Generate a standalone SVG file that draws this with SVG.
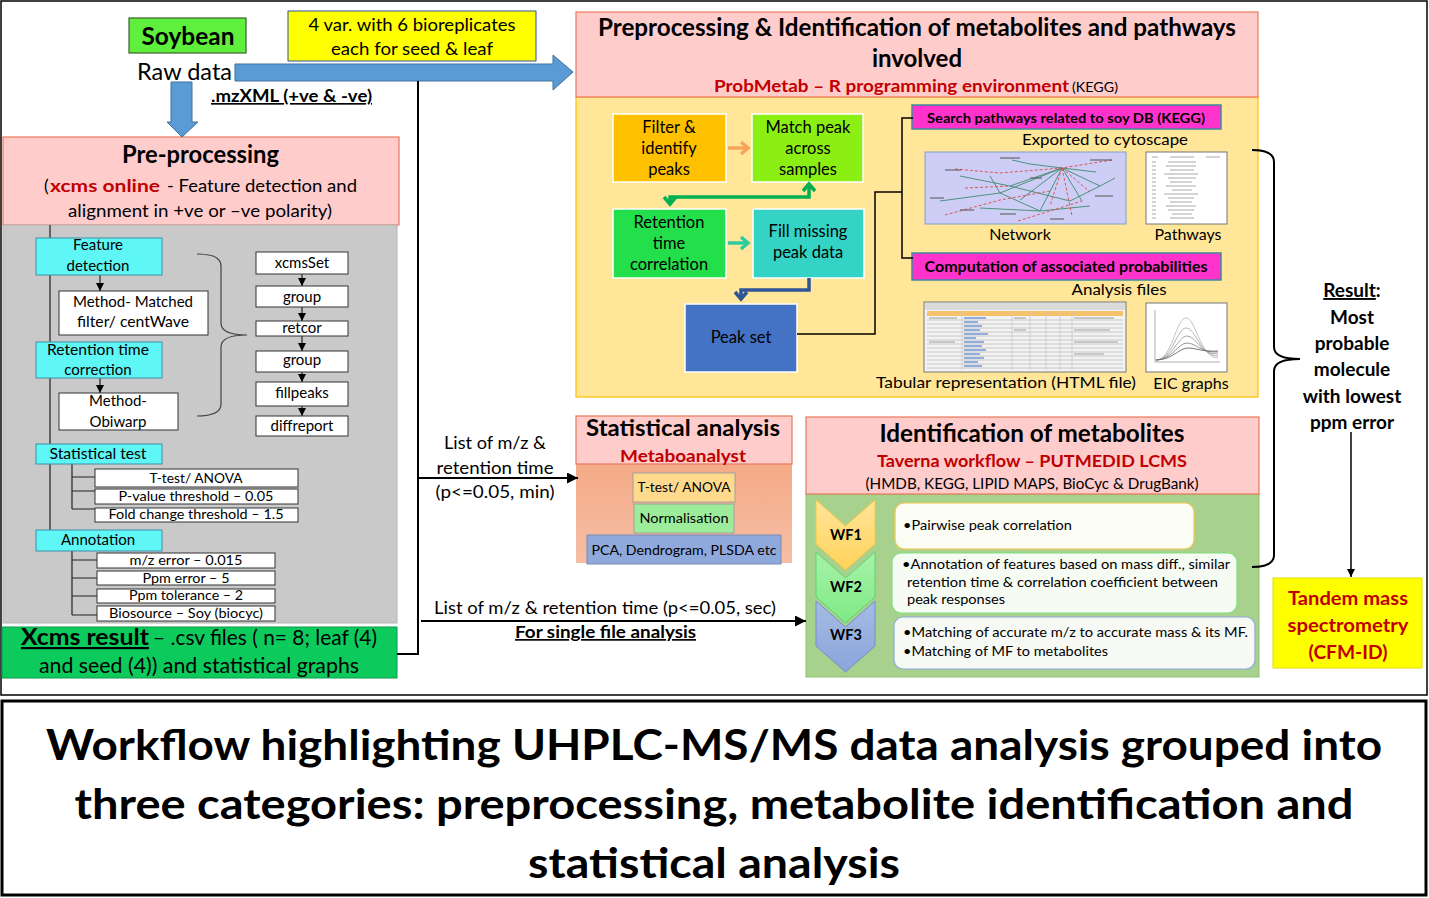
<svg xmlns="http://www.w3.org/2000/svg" width="1429" height="898" viewBox="0 0 1429 898">
<defs>
<style>
text{font-family:Lato,"Liberation Sans",sans-serif;fill:#000}
.b{font-weight:bold}
.r{fill:#C00000}
.c{text-anchor:middle}
.u{text-decoration:underline}
.cy{fill:#5FF6F6;stroke:#3E8FA8;stroke-width:1}
.wb{fill:#fff;stroke:#333;stroke-width:1}
.pink{fill:#FFCCCC;stroke:#E9785A;stroke-width:1.2}
.ln{fill:none;stroke:#222;stroke-width:1.2}
.conn{fill:none;stroke:#000;stroke-width:2}
.mag{fill:#FF33CC;stroke:#3D8C9C;stroke-width:1.5}
.s13{font-size:13.5px}
.s15{font-size:15px}
.s16{font-size:16.5px}
.s17{font-size:17px}
.s19{font-size:19px}
.grid{stroke:#bdbdbd;stroke-width:0.8}
</style>
<marker id="ah" viewBox="0 0 8 8" markerWidth="8" markerHeight="8" refX="8" refY="4" orient="auto" markerUnits="userSpaceOnUse"><path d="M0,0 L8,4 L0,8 z" fill="#000"/></marker>
<marker id="ahL" viewBox="0 0 10 10" markerWidth="11" markerHeight="11" refX="10" refY="5" orient="auto" markerUnits="userSpaceOnUse"><path d="M0,0 L10,5 L0,10 z" fill="#000"/></marker>
<marker id="chO" viewBox="0 0 12 16" markerWidth="12" markerHeight="16" refX="9" refY="8" orient="auto" markerUnits="userSpaceOnUse"><path d="M2,2 L9,8 L2,14" fill="none" stroke="#F7A35C" stroke-width="3.5"/></marker>
<marker id="chT" viewBox="0 0 12 16" markerWidth="12" markerHeight="16" refX="9" refY="8" orient="auto" markerUnits="userSpaceOnUse"><path d="M2,2 L9,8 L2,14" fill="none" stroke="#2FCB9E" stroke-width="3.5"/></marker>
<marker id="chG" viewBox="0 0 12 16" markerWidth="12" markerHeight="16" refX="9" refY="8" orient="auto-start-reverse" markerUnits="userSpaceOnUse"><path d="M2,2 L9,8 L2,14" fill="none" stroke="#00B050" stroke-width="3.5"/></marker>
<marker id="chB" viewBox="0 0 12 16" markerWidth="12" markerHeight="16" refX="9" refY="8" orient="auto" markerUnits="userSpaceOnUse"><path d="M2,2 L9,8 L2,14" fill="none" stroke="#2F5597" stroke-width="3.5"/></marker>
<linearGradient id="gStat" x1="0" y1="0" x2="0" y2="1"><stop offset="0" stop-color="#F4AA86"/><stop offset="1" stop-color="#F6BFA6"/></linearGradient>
<linearGradient id="gW1" x1="0" y1="0" x2="0" y2="1"><stop offset="0" stop-color="#FFE49A"/><stop offset="1" stop-color="#FFD35A"/></linearGradient>
<linearGradient id="gW2" x1="0" y1="0" x2="0" y2="1"><stop offset="0" stop-color="#A8F2A8"/><stop offset="1" stop-color="#7EEA86"/></linearGradient>
<linearGradient id="gW3" x1="0" y1="0" x2="0" y2="1"><stop offset="0" stop-color="#A6BBE4"/><stop offset="1" stop-color="#8AA5DA"/></linearGradient>
</defs>

<rect x="0" y="0" width="1429" height="898" fill="#fff"/>
<rect x="1" y="1" width="1426" height="694" fill="none" stroke="#000" stroke-width="1.5"/>

<!-- Soybean / raw data -->
<g id="soybean">
<rect x="129" y="18" width="117" height="35" fill="#5EF03C" stroke="#3F5F35" stroke-width="1.2"/>
<text x="188" y="45" class="b c" font-size="25" textLength="93" lengthAdjust="spacingAndGlyphs">Soybean</text>
</g>
<g id="rawdata">
<text x="137" y="80" font-size="23" textLength="95" lengthAdjust="spacingAndGlyphs">Raw data</text>
<text x="211" y="102" class="b u" font-size="16.5" textLength="161" lengthAdjust="spacingAndGlyphs">.mzXML (+ve &amp; -ve)</text>
</g>
<g id="replicates">
<rect x="288" y="11" width="248" height="50" fill="#FFFF00" stroke="#2F5597" stroke-width="1"/>
<text x="412" y="31" class="c s16" textLength="207" lengthAdjust="spacingAndGlyphs">4 var. with 6 bioreplicates</text>
<text x="412" y="55" class="c s16" textLength="162" lengthAdjust="spacingAndGlyphs">each for seed &amp; leaf</text>
</g>

<!-- Pre-processing -->
<g id="preprocessing">
<rect x="3" y="137" width="396" height="88" class="pink"/>
<text x="122" y="163" class="b" font-size="24" textLength="157" lengthAdjust="spacingAndGlyphs">Pre-processing</text>
<text x="44" y="192" font-size="17.5">(</text>
<text x="50" y="192" class="b r" font-size="17.5" textLength="110" lengthAdjust="spacingAndGlyphs">xcms online</text>
<text x="167" y="192" font-size="17.5" textLength="190" lengthAdjust="spacingAndGlyphs">- Feature detection and</text>
<text x="68" y="217" font-size="17.5" textLength="264" lengthAdjust="spacingAndGlyphs">alignment in +ve or –ve polarity)</text>
</g>

<g id="xcms-panel">
<rect x="3" y="225" width="394" height="398" fill="#C9C9C9" stroke="#B5B5B5" stroke-width="1"/>
<line x1="50" y1="225" x2="50" y2="530" class="ln"/>
<line x1="72" y1="464" x2="72" y2="509" class="ln"/>
<path d="M72,477 H95 M72,491 H95 M72,509 H95" class="ln"/>
<line x1="72" y1="551" x2="72" y2="615" class="ln"/>
<path d="M72,560 H97 M72,578 H97 M72,596 H97 M72,615 H97" class="ln"/>
<line x1="100" y1="275" x2="100" y2="291" class="ln" marker-end="url(#ah)"/>
<line x1="100" y1="374" x2="100" y2="393" class="ln" marker-end="url(#ah)"/>
<path d="M197,254 Q221,254 221,266 L221,323 Q221,335 247,335 Q221,335 221,347 L221,404 Q221,416 197,416" fill="none" stroke="#444" stroke-width="1.2"/>
<line x1="302" y1="274" x2="302" y2="286" class="ln" marker-end="url(#ah)"/>
<line x1="302" y1="307" x2="302" y2="321" class="ln" marker-end="url(#ah)"/>
<line x1="302" y1="336" x2="302" y2="351" class="ln" marker-end="url(#ah)"/>
<line x1="302" y1="372" x2="302" y2="382" class="ln" marker-end="url(#ah)"/>
<line x1="302" y1="406" x2="302" y2="416" class="ln" marker-end="url(#ah)"/>
</g>

<g id="feature-detection">
<rect x="36" y="238" width="126" height="37" class="cy"/>
<text x="98" y="250" class="c s15">Feature</text>
<text x="98" y="271" class="c s15">detection</text>
</g>
<g id="method-matched">
<rect x="59" y="291" width="149" height="44" class="wb"/>
<text x="133" y="307" class="c s15" textLength="120" lengthAdjust="spacingAndGlyphs">Method- Matched</text>
<text x="133" y="327" class="c s15" textLength="112" lengthAdjust="spacingAndGlyphs">filter/ centWave</text>
</g>
<g id="rt-correction">
<rect x="36" y="342" width="126" height="36" class="cy"/>
<text x="98" y="355" class="c s15" textLength="102" lengthAdjust="spacingAndGlyphs">Retention time</text>
<text x="98" y="375" class="c s15">correction</text>
</g>
<g id="method-obiwarp">
<rect x="59" y="393" width="119" height="37" class="wb"/>
<text x="118" y="406" class="c s15">Method-</text>
<text x="118" y="427" class="c s15">Obiwarp</text>
</g>
<g id="xcms-steps">
<rect x="256" y="252" width="92" height="22" class="wb"/>
<text x="302" y="268" class="c s15">xcmsSet</text>
<rect x="256" y="286" width="92" height="21" class="wb"/>
<text x="302" y="302" class="c s15">group</text>
<rect x="256" y="321" width="92" height="15" class="wb"/>
<text x="302" y="333" class="c s15">retcor</text>
<rect x="256" y="351" width="92" height="21" class="wb"/>
<text x="302" y="365" class="c s15">group</text>
<rect x="256" y="382" width="92" height="24" class="wb"/>
<text x="302" y="398" class="c s15">fillpeaks</text>
<rect x="256" y="416" width="92" height="20" class="wb"/>
<text x="302" y="431" class="c s15">diffreport</text>
</g>
<g id="statistical-test">
<rect x="36" y="444" width="126" height="20" class="cy"/>
<text x="98" y="459" class="c s15" textLength="97" lengthAdjust="spacingAndGlyphs">Statistical test</text>
<rect x="95" y="469" width="203" height="18" class="wb"/>
<text x="196" y="483" class="c s13" textLength="93" lengthAdjust="spacingAndGlyphs">T-test/ ANOVA</text>
<rect x="95" y="489" width="203" height="15" class="wb"/>
<text x="196" y="501" class="c s13" textLength="155" lengthAdjust="spacingAndGlyphs">P-value threshold – 0.05</text>
<rect x="95" y="508" width="203" height="14" class="wb"/>
<text x="196" y="519" class="c s13" textLength="175" lengthAdjust="spacingAndGlyphs">Fold change threshold – 1.5</text>
</g>
<g id="annotation">
<rect x="36" y="530" width="126" height="21" class="cy"/>
<text x="98" y="545" class="c s15">Annotation</text>
<rect x="97" y="553" width="178" height="15" class="wb"/>
<text x="186" y="565" class="c s13" textLength="113" lengthAdjust="spacingAndGlyphs">m/z error – 0.015</text>
<rect x="97" y="571" width="178" height="14" class="wb"/>
<text x="186" y="583" class="c s13" textLength="87" lengthAdjust="spacingAndGlyphs">Ppm error – 5</text>
<rect x="97" y="589" width="178" height="14" class="wb"/>
<text x="186" y="600" class="c s13" textLength="114" lengthAdjust="spacingAndGlyphs">Ppm tolerance – 2</text>
<rect x="97" y="606" width="178" height="15" class="wb"/>
<text x="186" y="618" class="c s13" textLength="154" lengthAdjust="spacingAndGlyphs">Biosource – Soy (biocyc)</text>
</g>
<g id="xcms-result">
<rect x="2" y="627" width="395" height="51" fill="#0CCB5C" stroke="#0A9A48" stroke-width="1"/>
<text x="21" y="645" class="b u" font-size="22" textLength="128" lengthAdjust="spacingAndGlyphs">Xcms result</text>
<text x="153" y="645" font-size="21" textLength="224" lengthAdjust="spacingAndGlyphs">– .csv files ( n= 8; leaf (4)</text>
<text x="39" y="673" font-size="21" textLength="320" lengthAdjust="spacingAndGlyphs">and seed  (4)) and statistical graphs</text>
</g>

<!-- List labels -->
<g id="list-labels">
<text x="495" y="449" class="c s17" textLength="102" lengthAdjust="spacingAndGlyphs">List of m/z &amp;</text>
<text x="495" y="474" class="c s17" textLength="117" lengthAdjust="spacingAndGlyphs">retention time</text>
<text x="495" y="498" class="c s17" textLength="119" lengthAdjust="spacingAndGlyphs">(p&lt;=0.05, min)</text>
<text x="434" y="614" class="s17" textLength="342" lengthAdjust="spacingAndGlyphs">List of m/z &amp; retention time (p&lt;=0.05, sec)</text>
<text x="515" y="638" class="b u s17" textLength="181" lengthAdjust="spacingAndGlyphs">For single file analysis</text>
</g>

<!-- Statistical analysis -->
<g id="statistical-analysis">
<rect x="576" y="464" width="216" height="99" fill="url(#gStat)"/>
<rect x="576" y="416" width="216" height="48" class="pink"/>
<text x="683" y="436" class="b c" font-size="22" textLength="194" lengthAdjust="spacingAndGlyphs">Statistical analysis</text>
<text x="683" y="462" class="b c r s17" textLength="126" lengthAdjust="spacingAndGlyphs">Metaboanalyst</text>
<rect x="633" y="473" width="102" height="29" fill="#FFD98C" stroke="#A0A0A0" stroke-width="1"/>
<text x="684" y="492" class="c" font-size="14" textLength="93" lengthAdjust="spacingAndGlyphs">T-test/ ANOVA</text>
<rect x="634" y="504" width="100" height="29" fill="#9DEC9B" stroke="#A0A0A0" stroke-width="1"/>
<text x="684" y="523" class="c" font-size="14" textLength="89" lengthAdjust="spacingAndGlyphs">Normalisation</text>
<rect x="587" y="535" width="194" height="29" fill="#8FA9DC" stroke="#7A8AB0" stroke-width="1"/>
<text x="684" y="555" class="c" font-size="14" textLength="185" lengthAdjust="spacingAndGlyphs">PCA, Dendrogram, PLSDA etc</text>
</g>

<!-- Identification of metabolites -->
<g id="identification">
<rect x="806" y="494" width="453" height="183" fill="#A9D18E" stroke="#8CBF6E" stroke-width="1"/>
<rect x="806" y="417" width="453" height="77" class="pink"/>
<text x="1032" y="442" class="b c" font-size="24" textLength="305" lengthAdjust="spacingAndGlyphs">Identification of metabolites</text>
<text x="1032" y="467" class="b c r" font-size="17.5" textLength="310" lengthAdjust="spacingAndGlyphs">Taverna workflow – PUTMEDID LCMS</text>
<text x="1032" y="489" class="c" font-size="15.5" textLength="333" lengthAdjust="spacingAndGlyphs">(HMDB, KEGG, LIPID MAPS, BioCyc &amp; DrugBank)</text>
</g>
<g id="wf1">
<polygon points="816,500 845.5,526 875,500 875,544 845.5,570 816,544" fill="url(#gW1)" stroke="#F2C744" stroke-width="1"/>
<text x="846" y="540" class="b c" font-size="14.5">WF1</text>
<rect x="895" y="503" width="299" height="46" rx="9" fill="#FBFCF4" stroke="#F2C744" stroke-width="1.2"/>
<text x="903" y="530" class="s13" textLength="169" lengthAdjust="spacingAndGlyphs">•Pairwise peak correlation</text>
</g>
<g id="wf2">
<polygon points="816,552 845.5,578 875,552 875,597 845.5,623 816,597" fill="url(#gW2)" stroke="#5FD46C" stroke-width="1"/>
<text x="846" y="592" class="b c" font-size="14.5">WF2</text>
<rect x="892" y="553" width="345" height="60" rx="9" fill="#F6FBF3" stroke="#7FE07F" stroke-width="1.2"/>
<text x="902" y="569" class="s13" textLength="328" lengthAdjust="spacingAndGlyphs">•Annotation of features based on mass diff., similar</text>
<text x="907" y="587" class="s13" textLength="311" lengthAdjust="spacingAndGlyphs">retention time &amp; correlation coefficient between</text>
<text x="907" y="604" class="s13" textLength="98" lengthAdjust="spacingAndGlyphs">peak responses</text>
</g>
<g id="wf3">
<polygon points="816,601 845.5,627 875,601 875,646 845.5,672 816,646" fill="url(#gW3)" stroke="#6F8FCF" stroke-width="1"/>
<text x="846" y="640" class="b c" font-size="14.5">WF3</text>
<rect x="894" y="617" width="361" height="52" rx="9" fill="#F6F9F4" stroke="#8FA9DC" stroke-width="1.2"/>
<text x="903" y="637" class="s13" textLength="345" lengthAdjust="spacingAndGlyphs">•Matching of accurate m/z to accurate mass &amp; its MF.</text>
<text x="903" y="656" class="s13" textLength="205" lengthAdjust="spacingAndGlyphs">•Matching of MF to metabolites</text>
</g>

<!-- Result -->
<g id="result">
<text x="1352" y="297" class="b c s19"><tspan class="u">Result</tspan>:</text>
<text x="1352" y="324" class="b c s19">Most</text>
<text x="1352" y="350" class="b c s19">probable</text>
<text x="1352" y="376" class="b c s19">molecule</text>
<text x="1352" y="403" class="b c s19">with lowest</text>
<text x="1352" y="429" class="b c s19">ppm error</text>
</g>
<g id="tandem">
<rect x="1273" y="578" width="149" height="90" fill="#FFFF00" stroke="#E0E000" stroke-width="1"/>
<text x="1348" y="605" class="b c r s19" textLength="120" lengthAdjust="spacingAndGlyphs">Tandem mass</text>
<text x="1348" y="632" class="b c r s19" textLength="121" lengthAdjust="spacingAndGlyphs">spectrometry</text>
<text x="1348" y="659" class="b c r s19" textLength="79" lengthAdjust="spacingAndGlyphs">(CFM-ID)</text>
</g>

<!-- ProbMetab -->
<g id="probmetab">
<rect x="576" y="97" width="682" height="300" fill="#FFE699" stroke="#FFC000" stroke-width="1.2"/>
<rect x="576" y="12" width="682" height="85" class="pink"/>
<text x="917" y="36" class="b c" font-size="24" textLength="638" lengthAdjust="spacingAndGlyphs">Preprocessing &amp; Identification of metabolites and pathways</text>
<text x="917" y="67" class="b c" font-size="24" textLength="90" lengthAdjust="spacingAndGlyphs">involved</text>
<text x="714" y="92" class="b r" font-size="17.5" textLength="355" lengthAdjust="spacingAndGlyphs">ProbMetab – R programming environment</text>
<text x="1072" y="92" font-size="13" textLength="46" lengthAdjust="spacingAndGlyphs">(KEGG)</text>
</g>
<g id="filter-peaks">
<rect x="613" y="114" width="113" height="68" fill="#FFC000" stroke="#fff" stroke-width="1.5"/>
<text x="669" y="133" class="c s16">Filter &amp;</text>
<text x="669" y="154" class="c s16">identify</text>
<text x="669" y="175" class="c s16">peaks</text>
</g>
<g id="match-peak">
<rect x="752" y="114" width="111" height="68" fill="#8CEF14" stroke="#fff" stroke-width="1.5"/>
<text x="808" y="133" class="c s16">Match peak</text>
<text x="808" y="154" class="c s16">across</text>
<text x="808" y="175" class="c s16">samples</text>
</g>
<g id="rt-correlation">
<rect x="613" y="209" width="113" height="69" fill="#23DF4B" stroke="#fff" stroke-width="1.5"/>
<text x="669" y="228" class="c s16">Retention</text>
<text x="669" y="249" class="c s16">time</text>
<text x="669" y="270" class="c s16">correlation</text>
</g>
<g id="fill-missing">
<rect x="753" y="209" width="111" height="69" fill="#34D3C6" stroke="#fff" stroke-width="1.5"/>
<text x="808" y="237" class="c s16">Fill missing</text>
<text x="808" y="258" class="c s16">peak data</text>
</g>
<g id="peak-set">
<rect x="685" y="304" width="112" height="68" fill="#4472C4" stroke="#fff" stroke-width="1.5"/>
<text x="741" y="343" class="c s16">Peak set</text>
</g>
<g id="search-pathways">
<rect x="912" y="105" width="309" height="24" class="mag"/>
<text x="1066" y="123" class="b c" font-size="14" textLength="278" lengthAdjust="spacingAndGlyphs">Search pathways related to soy DB (KEGG)</text>
<text x="1105" y="145" class="c" font-size="16" textLength="166" lengthAdjust="spacingAndGlyphs">Exported to cytoscape</text>
</g>
<g id="network">
<rect x="925" y="152" width="201" height="72" fill="#CDCDF6" stroke="#7FA0D0" stroke-width="1"/>
<path d="M960,176 L1010,186 L1062,168 L1100,186 L1070,201 L1010,186 M940,201 L1000,193 L1062,168 L1082,201 M990,176 L1000,193 L1040,211 L1062,168 M1030,164 L1062,168 L1096,172 M980,208 L1040,211 L1090,206 M1062,168 L1020,200 M1100,186 L1115,178 M1012,160 L1030,164" fill="none" stroke="#3F8A6E" stroke-width="0.9"/>
<path d="M955,169 L1000,173 L1062,168 L1112,160 M945,215 L1000,200 L1050,191 M1062,168 L1072,216 M1062,168 L1050,206 M1018,221 L1082,201 M1062,168 L1090,192 M965,188 L1010,186" fill="none" stroke="#E04848" stroke-width="0.9" stroke-dasharray="3,2"/>
<path d="M945,170 h16 M1000,158 h20 M1090,160 h22 M930,198 h14 M1095,196 h18 M1000,214 h16 M1050,219 h14 M960,210 h14 M1030,178 h12" stroke="#555" stroke-width="1.2"/>
<text x="1020" y="240" class="c" font-size="16">Network</text>
</g>
<g id="pathways">
<rect x="1146" y="152" width="81" height="72" fill="#fff" stroke="#777" stroke-width="1"/>
<path d="M1152,157 h6 M1170,157 h24 M1206,157 h14 M1152,162 h4 M1168,162 h28 M1152,166 h4 M1166,166 h30 M1152,170 h4 M1170,170 h24 M1152,174 h4 M1164,174 h34 M1152,178 h4 M1168,178 h28 M1152,182 h4 M1170,182 h22 M1152,186 h4 M1166,186 h30 M1152,190 h4 M1172,190 h20 M1152,194 h4 M1164,194 h34 M1152,198 h4 M1168,198 h26 M1152,202 h4 M1170,202 h22 M1152,206 h4 M1166,206 h30 M1152,210 h4 M1168,210 h26 M1152,214 h4 M1172,214 h20 M1152,218 h4 M1170,218 h24" stroke="#a8a8a8" stroke-width="1"/>
<text x="1188" y="240" class="c" font-size="16">Pathways</text>
</g>
<g id="computation">
<rect x="912" y="253" width="309" height="27" class="mag"/>
<text x="1066" y="272" class="b c" font-size="15" textLength="283" lengthAdjust="spacingAndGlyphs">Computation of associated probabilities</text>
<text x="1119" y="295" class="c" font-size="16" textLength="95" lengthAdjust="spacingAndGlyphs">Analysis files</text>
</g>
<g id="tabular">
<rect x="924" y="302" width="202" height="70" fill="#F2F2F2" stroke="#777" stroke-width="1"/>
<rect x="925" y="303" width="200" height="7" fill="#DADADA"/>
<rect x="927" y="311" width="196" height="5" fill="#F5C26B"/>
<path d="M927,320 H1123 M927,324 H1123 M927,328 H1123 M927,332 H1123 M927,336 H1123 M927,340 H1123 M927,344 H1123 M927,348 H1123 M927,352 H1123 M927,356 H1123 M927,360 H1123 M927,364 H1123 M927,368 H1123" class="grid"/>
<path d="M962,311 V370 M1012,311 V370 M1030,311 V370 M1046,311 V370 M1060,311 V370 M1072,311 V370" stroke="#c8c8c8" stroke-width="0.8"/>
<path d="M964,318 h22 M964,322 h14 M964,326 h18 M964,330 h16 M964,334 h24 M964,338 h12 M964,342 h20 M964,346 h18 M964,350 h22 M964,354 h16 M964,358 h20 M964,362 h14 M964,366 h18" stroke="#3366CC" stroke-width="1"/>
<path d="M1074,318 h40 M1074,330 h36 M1074,342 h44 M1074,354 h30 M929,318 h28 M929,342 h26 M1014,318 h12 M1014,330 h12" stroke="#888" stroke-width="0.8"/>
<text x="876" y="388" font-size="16" textLength="260" lengthAdjust="spacingAndGlyphs">Tabular representation (HTML file)</text>
</g>
<g id="eic">
<rect x="1146" y="303" width="81" height="69" fill="#fff" stroke="#777" stroke-width="1"/>
<path d="M1155,362 H1220 M1155,310 V362" stroke="#999" stroke-width="0.8"/>
<path d="M1156,360 C1172,360 1176,318 1186,318 C1196,318 1200,358 1218,358" fill="none" stroke="#bbb" stroke-width="0.9"/>
<path d="M1156,360 C1172,360 1177,328 1186,328 C1196,328 1200,356 1218,356" fill="none" stroke="#aaa" stroke-width="0.9"/>
<path d="M1156,360 C1172,360 1178,336 1187,336 C1196,336 1201,355 1218,354" fill="none" stroke="#999" stroke-width="0.9"/>
<path d="M1156,360 C1172,360 1178,343 1187,343 C1196,343 1201,353 1218,352" fill="none" stroke="#888" stroke-width="0.9"/>
<path d="M1156,360 C1172,360 1179,348 1188,348 C1196,348 1202,352 1218,351" fill="none" stroke="#666" stroke-width="0.9"/>
<text x="1191" y="389" class="c" font-size="16">EIC graphs</text>
</g>

<!-- Connectors (drawn last so they sit above the panels) -->
<g id="connectors">
<path d="M235,64 H553 V55 L573,72 L553,90 V81 H235 Z" fill="#5B9BD5" stroke="#41719C" stroke-width="1"/>
<path d="M171,82 H192 V122 H198 L182,137 L167,122 H171 Z" fill="#5B9BD5" stroke="#41719C" stroke-width="1"/>
<path d="M397,654 H418 V81" class="conn"/>
<path d="M418,478 H578" class="conn" marker-end="url(#ahL)"/>
<path d="M421,621 H806" class="conn" marker-end="url(#ahL)"/>
<path d="M1252,150 Q1274,150 1274,162 L1274,347 Q1274,359 1300,359 Q1274,359 1274,371 L1274,555 Q1274,567 1252,567" fill="none" stroke="#000" stroke-width="2"/>
<path d="M1351,432 V577" fill="none" stroke="#000" stroke-width="1.5" marker-end="url(#ah)"/>
<path d="M728,148 H748" fill="none" stroke="#F7A35C" stroke-width="3.5" marker-end="url(#chO)"/>
<path d="M728,243 H748" fill="none" stroke="#2FCB9E" stroke-width="3.5" marker-end="url(#chT)"/>
<path d="M670,204 V197 H809 V184" fill="none" stroke="#00B050" stroke-width="3.5" marker-start="url(#chG)" marker-end="url(#chG)"/>
<path d="M809,278 V290 H741 V299" fill="none" stroke="#2F5597" stroke-width="3.5" marker-end="url(#chB)"/>
<path d="M797,334 H875 V192 H902" fill="none" stroke="#000" stroke-width="1.5"/>
<path d="M913,118 H902 V258 H913" fill="none" stroke="#000" stroke-width="1.5"/>
</g>

<!-- Title -->
<g id="title">
<rect x="2" y="701" width="1424" height="194" fill="#fff" stroke="#000" stroke-width="3"/>
<text x="714" y="760" class="b c" font-size="42" textLength="1336" lengthAdjust="spacingAndGlyphs">Workflow highlighting UHPLC-MS/MS data analysis grouped into</text>
<text x="714" y="819" class="b c" font-size="42" textLength="1279" lengthAdjust="spacingAndGlyphs">three categories: preprocessing, metabolite identification and</text>
<text x="714" y="878" class="b c" font-size="42" textLength="372" lengthAdjust="spacingAndGlyphs">statistical analysis</text>
</g>
</svg>
